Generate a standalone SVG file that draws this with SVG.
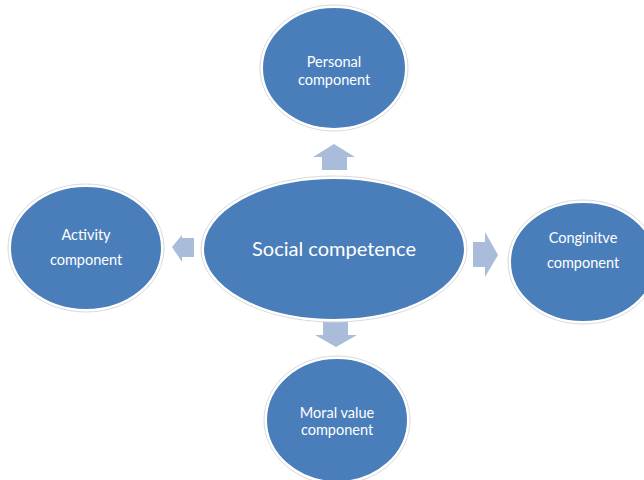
<svg xmlns="http://www.w3.org/2000/svg" width="644" height="480" viewBox="0 0 644 480">
<style>
.node{fill:#4a7ebb;stroke:#ffffff;stroke-width:2}
.halo{fill:none;stroke:#d9d9d9;stroke-width:1}
.arr{fill:#a9bcd9}
.t{font-family:Lato,"Open Sans","Liberation Sans",sans-serif;fill:#ffffff;text-anchor:middle;font-size:14.5px}
.big{font-size:20px}
</style>
<rect width="644" height="480" fill="#ffffff"/>
<g id="connectors">
<polygon class="arr" points="334,144 355,157 347,157 347,170 322,170 322,157 313,157"/>
<polygon class="arr" points="172,247 182,235 182,238 194,238 194,257 182,257 182,262"/>
<polygon class="arr" points="498,255 485,232 485,242 473,242 473,267 485,267 485,277"/>
<polygon class="arr" points="336,347 357,335 348,335 348,322 323,322 323,335 315,335"/>
</g>
<g id="personal">
<ellipse class="halo" cx="334" cy="68" rx="74" ry="63"/>
<ellipse class="node" cx="334" cy="68" rx="72" ry="61"/>
<text class="t" x="334" y="67">Personal</text>
<text class="t" x="334" y="85">component</text>
</g>
<g id="social">
<ellipse class="halo" cx="334" cy="249" rx="133" ry="73"/>
<ellipse class="node" cx="334" cy="249" rx="131" ry="71"/>
<text class="t big" x="334" y="256">Social competence</text>
</g>
<g id="activity">
<ellipse class="halo" cx="86" cy="248" rx="78" ry="64"/>
<ellipse class="node" cx="86" cy="248" rx="76" ry="62"/>
<text class="t" x="86" y="240">Activity</text>
<text class="t" x="86" y="265">component</text>
</g>
<g id="cognitive">
<ellipse class="halo" cx="583" cy="262" rx="75" ry="62"/>
<ellipse class="node" cx="583" cy="262" rx="73" ry="60"/>
<text class="t" x="583" y="243">Conginitve</text>
<text class="t" x="583" y="268">component</text>
</g>
<g id="moral">
<ellipse class="halo" cx="337" cy="420" rx="73" ry="64"/>
<ellipse class="node" cx="337" cy="420" rx="71" ry="62"/>
<text class="t" x="337" y="418">Moral value</text>
<text class="t" x="337" y="435">component</text>
</g>
</svg>
